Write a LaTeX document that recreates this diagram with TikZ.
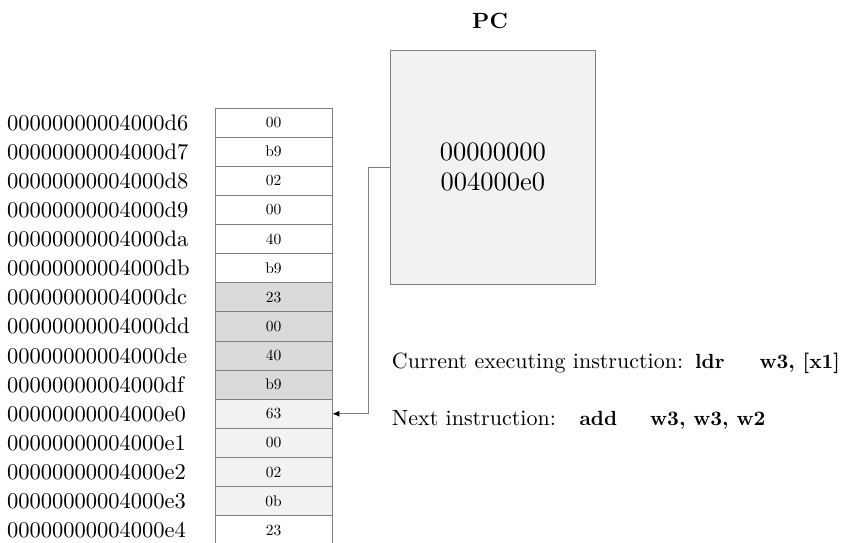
\documentclass[tikz,border=0pt]{standalone}
\usepackage{fontspec}
\setmainfont{lmroman10-regular.otf}[BoldFont=lmroman10-bold.otf]
\usetikzlibrary{arrows.meta}
\definecolor{hl}{HTML}{DADADA}
\definecolor{lt}{HTML}{F2F2F2}
\definecolor{bd}{HTML}{808080}
\begin{document}
\begin{tikzpicture}[x=1pt,y=-1pt,
  cell/.style={draw=bd, line width=0.9pt, minimum width=117pt, minimum height=29.12pt, inner sep=0pt, font=\fontsize{15.5}{18}\selectfont},
  addr/.style={anchor=west, inner sep=0pt, font=\fontsize{22.5}{27}\selectfont},
  pcbox/.style={draw=bd, line width=0.9pt, fill=lt, minimum width=205.7pt, minimum height=234pt, inner sep=0pt, align=center, font=\fontsize{26.5}{30}\selectfont},
  txt/.style={anchor=base west, inner sep=0pt, font=\fontsize{22}{24}\selectfont},
  btxt/.style={anchor=base west, inner sep=0pt, font=\fontsize{20.5}{24}\selectfont\bfseries},
  conn/.style={draw=bd, line width=0.9pt, -{Latex[length=7pt,width=6pt,black]}}
]
\useasboundingbox (0,0) rectangle (846,542);
\foreach \i/\a/\v/\f in {0/d6/00/white,1/d7/b9/white,2/d8/02/white,3/d9/00/white,4/da/40/white,5/db/b9/white,6/dc/23/hl,7/dd/00/hl,8/de/40/hl,9/df/b9/hl,10/e0/63/lt,11/e1/00/lt,12/e2/02/lt,13/e3/0b/lt,14/e4/23/white}{
  \node[cell, fill=\f] (c\i) at (273.5, 108+\i*29.12+14.56) {\v};
  \node[addr] (a\i) at (7, 108+\i*29.12+14.56) {00000000004000\a};
}
\node[pcbox] (pc) at (492.85,167) {00000000\\004000e0};
\node[font=\fontsize{22}{26}\selectfont\bfseries, inner sep=0pt] (pcl) at (490,21) {PC};
\draw[conn] (pc.west) -- ++(-20.7,0) |- (c10.east);
\node[txt] (cur) at (391.7,368) {Current executing instruction:};
\node[btxt] (ldr) at (695,368) {ldr};
\node[btxt] (ldra) at (759.3,368) {w3, [x1]};
\node[txt] (nxt) at (391.7,425) {Next instruction:};
\node[btxt] (add) at (579.3,425) {add};
\node[btxt] (adda) at (650,425) {w3, w3, w2};
\end{tikzpicture}
\end{document}
